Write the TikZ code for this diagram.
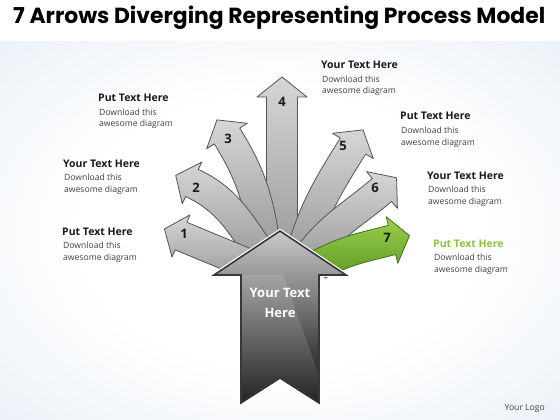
\documentclass[tikz,border=0pt]{standalone}
\usepackage{fontspec}
\usepackage{graphicx}
\setmainfont{Open Sans}
\newfontfamily\titlefont{Poppins}
\usetikzlibrary{calc}
\definecolor{bgblue}{HTML}{DCE6F1}
\definecolor{fanlight}{HTML}{D6D6D6}
\definecolor{fandark}{HTML}{989898}
\definecolor{fanedge}{HTML}{555555}
\definecolor{greenlight}{HTML}{9CD04C}
\definecolor{greendark}{HTML}{5A9A24}
\definecolor{greenedge}{HTML}{416E20}
\definecolor{greentext}{HTML}{8CC43C}
\definecolor{bigtop}{HTML}{CACACA}
\definecolor{bigmid}{HTML}{6C6C6C}
\definecolor{bigbot}{HTML}{060606}
\definecolor{headc}{HTML}{1A1A1A}
\definecolor{bodyc}{HTML}{404040}
\pgfdeclareradialshading{bgshade}{\pgfpoint{0bp}{0bp}}{color(0bp)=(white); color(18bp)=(white); color(50bp)=(bgblue); color(72bp)=(bgblue)}
% #1 base coord, #2 base angle, #3 head-base coord, #4 head angle, #5 base half width,
% #6 shaft half width, #7 head half width, #8 head length, #9 style
\newcommand\fanarrow[9]{%
  \pgfmathsetmacro\psiR{#2-90}\pgfmathsetmacro\psiL{#2+90}%
  \pgfmathsetmacro\phiR{#4-90}\pgfmathsetmacro\phiL{#4+90}\pgfmathsetmacro\phiB{#4+180}%
  \draw[#9] ($(#1)+(\psiR:#5)$) to[out=#2,in=\phiB] ($(#3)+(\phiR:#6)$)
    -- ($(#3)+(\phiR:#7)$) -- ($(#3)+(#4:#8)$) -- ($(#3)+(\phiL:#7)$)
    -- ($(#3)+(\phiL:#6)$) to[out=\phiB,in=#2] ($(#1)+(\psiL:#5)$) -- cycle;}
\newcommand\tblock[5]{%
  \node[headtxt, text=#5] (#1h) at (#2,-#3) {#4};
  \node[bodytxt] (#1a) at ($(#2,-#3)+(1,-13)$) {Download this};
  \node[bodytxt] (#1b) at ($(#2,-#3)+(1,-25)$) {awesome diagram};}
\begin{document}
\begin{tikzpicture}[x=1pt,y=1pt,
  greyarrow/.style={top color=fanlight, bottom color=fandark, draw=fanedge, line width=0.8pt, line join=round},
  greenarrow/.style={top color=greenlight, bottom color=greendark, draw=greenedge, line width=0.8pt, line join=round},
  headtxt/.style={anchor=base west, inner sep=0pt, font=\bfseries\fontsize{10.5}{12}\selectfont, text=headc},
  bodytxt/.style={anchor=base west, inner sep=0pt, font=\fontsize{8.6}{10}\selectfont, text=bodyc},
  numtxt/.style={inner sep=0pt, font=\bfseries\fontsize{13}{14}\selectfont, text=headc}]
\useasboundingbox (0,0) rectangle (560,-420);
\fill[white] (0,0) rectangle (560,-420);
\shade[shading=bgshade] (0,-42) rectangle (560,-420);
% title
\node[anchor=base west, inner sep=0pt] (title) at (13,-23.5)
  {\resizebox{532pt}{!}{\titlefont\bfseries 7 Arrows Diverging Representing Process Model}};
% base and head points of the fan arrows
\coordinate (b1) at (258,-268); \coordinate (h1) at (181,-236);
\coordinate (b2) at (262,-255); \coordinate (h2) at (192,-183);
\coordinate (b3) at (266,-250); \coordinate (h3) at (227,-136);
\coordinate (b4) at (282,-262); \coordinate (h4) at (282,-97);
\coordinate (b5) at (300,-258); \coordinate (h5) at (353,-146);
\coordinate (b6) at (306,-260); \coordinate (h6) at (382,-190);
\coordinate (b7) at (318,-265); \coordinate (h7) at (392,-240);
\fanarrow{b4}{90}{h4}{90}{15.5}{15.5}{25}{20}{greyarrow}
\fanarrow{b3}{98}{h3}{122}{15}{15}{24}{19}{greyarrow}
\fanarrow{b5}{75}{h5}{58}{15}{15}{24}{19}{greyarrow}
\fanarrow{b2}{125}{h2}{155}{15}{15}{23}{18}{greyarrow}
\fanarrow{b6}{55}{h6}{40}{15}{15}{24}{19}{greyarrow}
\fanarrow{b1}{157}{h1}{157}{15}{15}{23}{18}{greyarrow}
\fanarrow{b7}{28}{h7}{14}{15}{15}{24}{18}{greenarrow}
% numbers
\node[numtxt] (n1) at (184,-234) {1};
\node[numtxt] (n2) at (196,-188) {2};
\node[numtxt] (n3) at (228,-139) {3};
\node[numtxt] (n4) at (282,-102) {4};
\node[numtxt] (n5) at (343,-146) {5};
\node[numtxt] (n6) at (375,-188) {6};
\node[numtxt] (n7) at (387,-238) {7};
% central arrow
\path[draw=white, line width=4pt, line join=miter]
  (280,-231) -- (346,-275) -- (319,-275) -- (319,-403) -- (280,-378) -- (241,-403) -- (241,-275) -- (214,-275) -- cycle;
\shade[top color=bigtop, middle color=bigmid, bottom color=bigbot]
  (280,-231) -- (346,-275) -- (319,-275) -- (319,-403) -- (280,-378) -- (241,-403) -- (241,-275) -- (214,-275) -- cycle;
\fill[white, opacity=0.12] (241,-275) -- (283,-275) -- (319,-375) -- (319,-403) -- (280,-378) -- (241,-403) -- cycle;
\draw[draw=black!78, line width=1.6pt, line join=miter]
  (280,-231) -- (346,-275) -- (319,-275) -- (319,-403) -- (280,-378) -- (241,-403) -- (241,-275) -- (214,-275) -- cycle;
\node[align=center, text=white, font=\bfseries\fontsize{13}{20}\selectfont] (bigtxt) at (280,-303) {Your Text\\Here};
% text blocks
\tblock{l1}{98}{102}{Put Text Here}{headc}
\tblock{l2}{63}{167}{Your Text Here}{headc}
\tblock{l3}{62}{235}{Put Text Here}{headc}
\tblock{r1}{321}{69}{Your Text Here}{headc}
\tblock{r2}{400}{120}{Put Text Here}{headc}
\tblock{r3}{427}{179}{Your Text Here}{headc}
\tblock{r4}{433}{247}{Put Text Here}{greentext}
\node[bodytxt, anchor=base east] (logo) at (545,-410) {Your Logo};
\end{tikzpicture}
\end{document}
